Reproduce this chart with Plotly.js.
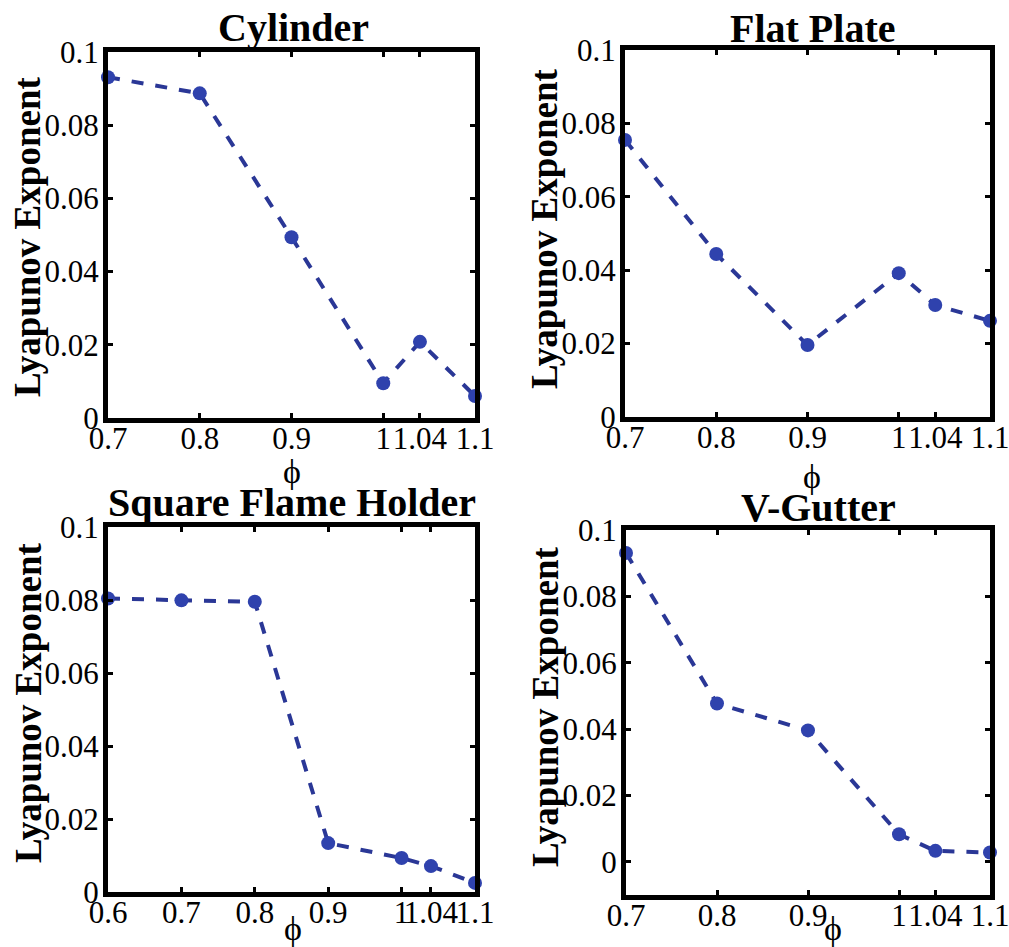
<!DOCTYPE html>
<html>
<head>
<meta charset="utf-8">
<script src="https://cdn.plot.ly/plotly-3.0.1.min.js"></script>
<style>html,body{margin:0;padding:0;background:#fff;}#chart{width:1009px;height:947px;}</style>
</head>
<body>
<div id="chart"></div>
<script>
// ---- data ----
const panelTitles = ["Cylinder", "Flat Plate", "Square Flame Holder", "V-Gutter"];
const cylinderPhi = [0.7, 0.8, 0.9, 1.0, 1.04, 1.1];
const cylinderLE  = [0.0931, 0.0887, 0.0494, 0.0095, 0.0208, 0.0060];
const flatPlatePhi = [0.7, 0.8, 0.9, 1.0, 1.04, 1.1];
const flatPlateLE  = [0.0755, 0.0444, 0.0196, 0.0392, 0.0305, 0.0262];
const squarePhi = [0.6, 0.7, 0.8, 0.9, 1.0, 1.04, 1.1];
const squareLE  = [0.0804, 0.0799, 0.0795, 0.0134, 0.0093, 0.0071, 0.0025];
const vGutterPhi = [0.7, 0.8, 0.9, 1.0, 1.04, 1.1];
const vGutterLE  = [0.0931, 0.0477, 0.0396, 0.0083, 0.0033, 0.0028];
const xTickVals = [0.6, 0.7, 0.8, 0.9, 1, 1.04, 1.1];
const xTickText = ["0.6", "0.7", "0.8", "0.9", "1", "1.04", "1.1"];
const yTickVals = [0, 0.02, 0.04, 0.06, 0.08, 0.1];
const yTickText = ["0", "0.02", "0.04", "0.06", "0.08", "0.1"];
const yAxisLabel = "Lyapunov Exponent";
const xAxisLabel = "\u03D5";

// ---- layout helpers ----
const W = 1009, H = 947;
const px = x => x / W;
const py = y => 1 - y / H;
const SERIF = "'Liberation Serif', 'Times New Roman', Times, serif";

const series = [
  {x: cylinderPhi, y: cylinderLE},
  {x: flatPlatePhi, y: flatPlateLE},
  {x: squarePhi, y: squareLE},
  {x: vGutterPhi, y: vGutterLE}
];
// pixel boxes [left, right, top, bottom]
const boxes = [
  [108, 475, 52, 418],
  [625, 990, 50, 417],
  [108, 475, 527, 892],
  [626, 990, 530, 895]
];
const xRanges = [[0.7, 1.1], [0.7, 1.1], [0.6, 1.1], [0.7, 1.1]];
const yRanges = [[0, 0.1], [0, 0.1], [0, 0.1], [-0.01, 0.1]];

const traces = [];
const layout = {
  width: W, height: H,
  margin: {l: 0, r: 0, t: 0, b: 0},
  paper_bgcolor: "#fff", plot_bgcolor: "#fff",
  showlegend: false,
  font: {family: SERIF, color: "#000"},
  annotations: []
};

series.forEach((s, i) => {
  const n = i === 0 ? "" : String(i + 1);
  traces.push({
    type: "scatter", mode: "lines+markers",
    x: s.x, y: s.y,
    xaxis: "x" + n, yaxis: "y" + n,
    line: {color: "#2a3796", width: 4, dash: "dash"},
    marker: {color: "#2f42ad", size: 14},
    cliponaxis: false
  });
  const b = boxes[i];
  const axCommon = {
    showline: true, linecolor: "#000", linewidth: 5, mirror: "ticks",
    ticks: "inside", ticklen: 5, tickwidth: 3, tickcolor: "#000",
    showgrid: false, zeroline: false, fixedrange: true,
    ticklabeloverflow: "allow",
    tickfont: {family: SERIF, size: 31, color: "#000"}
  };
  layout["xaxis" + n] = Object.assign({}, axCommon, {
    domain: [px(b[0]), px(b[1])], anchor: "y" + n,
    range: xRanges[i], tickmode: "array",
    tickvals: xTickVals.filter(v => v >= xRanges[i][0] - 1e-9),
    ticktext: xTickText.filter((t, k) => xTickVals[k] >= xRanges[i][0] - 1e-9),
    tickangle: 0, ticklabelstandoff: -11
  });
  layout["yaxis" + n] = Object.assign({}, axCommon, {
    domain: [py(b[3]), py(b[2])], anchor: "x" + n,
    range: yRanges[i], tickmode: "array",
    tickvals: yTickVals, ticktext: yTickText,
    ticklabelstandoff: -2
  });
});

// titles
const titlePos = [[293, 27], [813, 29], [292, 502], [818, 507]];
titlePos.forEach((p, i) => layout.annotations.push({
  text: "<b>" + panelTitles[i] + "</b>", xref: "paper", yref: "paper",
  x: px(p[0]), y: py(p[1]), xanchor: "center", yanchor: "middle",
  showarrow: false, font: {family: SERIF, size: 40, color: "#000"}
}));
// y-axis titles
const yTitlePos = [[28, 237], [545, 229], [28, 703], [545, 707]];
yTitlePos.forEach(p => layout.annotations.push({
  text: "<b>" + yAxisLabel + "</b>", xref: "paper", yref: "paper",
  x: px(p[0]), y: py(p[1]), xanchor: "center", yanchor: "middle",
  textangle: -90, showarrow: false,
  font: {family: SERIF, size: 37, color: "#000"}
}));
// x-axis titles (phi)
const xTitlePos = [[292, 472], [812, 476], [293, 928], [833, 928]];
xTitlePos.forEach(p => layout.annotations.push({
  text: xAxisLabel, xref: "paper", yref: "paper",
  x: px(p[0]), y: py(p[1]), xanchor: "center", yanchor: "middle",
  showarrow: false, font: {family: SERIF, size: 34, color: "#000"}
}));

Plotly.newPlot("chart", traces, layout, {displayModeBar: false, staticPlot: true});
</script>
</body>
</html>
